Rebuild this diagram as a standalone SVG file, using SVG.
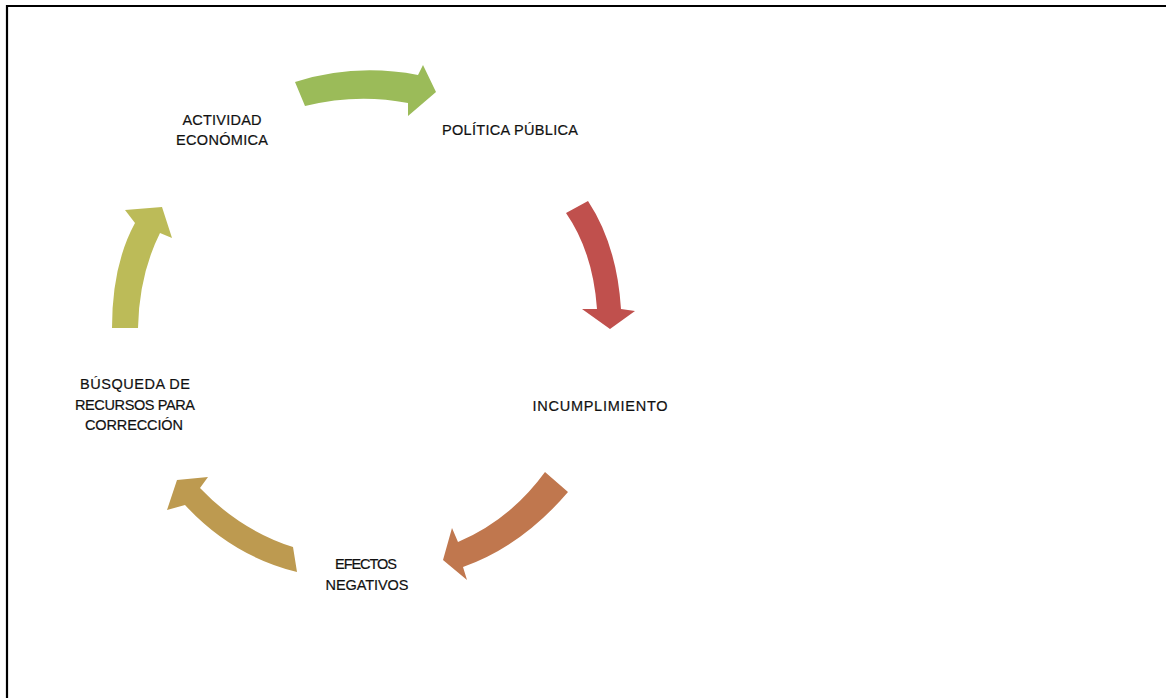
<svg xmlns="http://www.w3.org/2000/svg" width="1166" height="698" viewBox="0 0 1166 698">
<style>
.lbl{font-family:"Liberation Sans",Arial,sans-serif;font-size:14.5px;fill:#111;text-anchor:middle;stroke:#111;stroke-width:0.2}
.frame{fill:none;stroke:#000;stroke-width:2.2}
</style>
<rect width="1166" height="698" fill="#fff"/>
<path class="frame" d="M7,698 V6 H1166"/>
<g id="connectors">
<path id="arrow-green" fill="#9bbb59" d="M295,82 Q355,63 418,75 L423,65 L436,92 L408,116 L408,103 Q357,93 305,106 Z"/>
<path id="arrow-red" fill="#c0504d" d="M566,213 L588,201 Q617,245 621,309 L635,311 L610,329 L582,309 L597,309 Q593,252 566,213 Z"/>
<path id="arrow-orange" fill="#c0774e" d="M545,472 L568,492 Q522,546 463,567 L467,580 L443,560 L452,528 L458,542 Q510,520 545,472 Z"/>
<path id="arrow-gold" fill="#bd9a50" d="M177,480 L208,477 L200,488 Q240,530 293,547 L297,572 Q232,556 185,505 L167,510 Z"/>
<path id="arrow-olive" fill="#bcbb58" d="M112,328 Q112,265 135,223 L125,210 L162,207 L172,238 L160,233 Q139,275 138,328 Z"/>
</g>
<g id="node-actividad">
<text class="lbl" x="222" y="125" textLength="79" lengthAdjust="spacing">ACTIVIDAD</text>
<text class="lbl" x="222" y="145" textLength="92" lengthAdjust="spacing">ECONÓMICA</text>
</g>
<g id="node-politica">
<text class="lbl" x="510" y="135" textLength="136" lengthAdjust="spacing">POLÍTICA  PÚBLICA</text>
</g>
<g id="node-incumplimiento">
<text class="lbl" x="600" y="411" textLength="135" lengthAdjust="spacing">INCUMPLIMIENTO</text>
</g>
<g id="node-efectos">
<text class="lbl" x="366" y="569" textLength="62" lengthAdjust="spacing">EFECTOS</text>
<text class="lbl" x="367" y="590" textLength="83" lengthAdjust="spacing">NEGATIVOS</text>
</g>
<g id="node-busqueda">
<text class="lbl" x="135" y="389" textLength="110" lengthAdjust="spacing">BÚSQUEDA DE</text>
<text class="lbl" x="135" y="410" textLength="120" lengthAdjust="spacing">RECURSOS PARA</text>
<text class="lbl" x="134" y="430" textLength="98" lengthAdjust="spacing">CORRECCIÓN</text>
</g>
</svg>
